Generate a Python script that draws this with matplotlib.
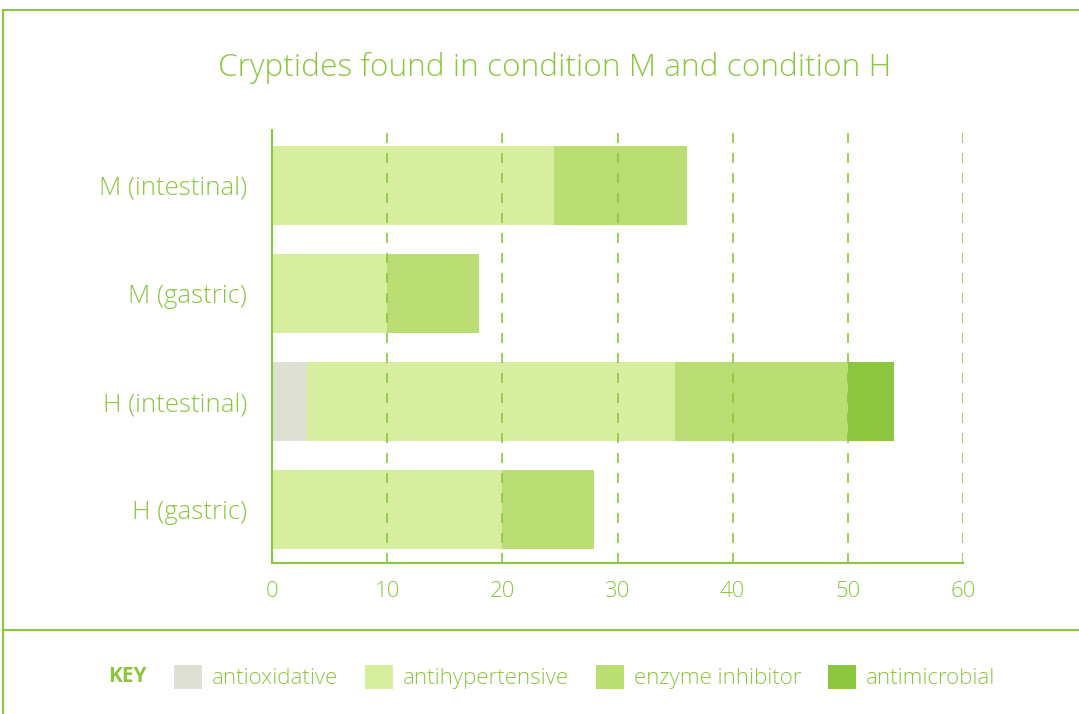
import matplotlib.pyplot as plt
from matplotlib.lines import Line2D
from matplotlib.patches import Patch

# data
samples = ["M (intestinal)", "M (gastric)", "H (intestinal)", "H (gastric)"]
categories = ["antioxidative", "antihypertensive", "enzyme inhibitor", "antimicrobial"]
antioxidative = [0, 0, 3, 0]
antihypertensive = [24.5, 10, 32, 20]
enzyme_inhibitor = [11.5, 8, 15, 8]
antimicrobial = [0, 0, 4, 0]
series = [antioxidative, antihypertensive, enzyme_inhibitor, antimicrobial]
colors = ["#dde0d3", "#d6ee9e", "#badd74", "#8cc63f"]
green = "#8cc63f"

plt.rcParams['font.family'] = ['Open Sans', 'DejaVu Sans']

fig = plt.figure(figsize=(10.79, 7.14), dpi=100)
ax = fig.add_axes([272/1079, 1-563/714, (963-272)/1079, (563-130)/714])

y = list(range(len(samples)))
left = [0]*len(samples)
for vals, col, name in zip(series, colors, categories):
    ax.barh(y, vals, left=left, height=0.73, color=col, label=name, zorder=2)
    left = [l+v for l, v in zip(left, vals)]

ax.set_xlim(0, 60)
ax.set_ylim(3.49, -0.51)
ax.set_yticks(y)
ax.set_yticklabels(samples)
ax.set_xticks(range(0, 61, 10))
ax.tick_params(length=0, colors=green, labelsize=16, pad=13)
ax.tick_params(axis='y', labelsize=18.5, pad=18)
for lab in ax.get_xticklabels() + ax.get_yticklabels():
    lab.set_fontweight('light')
ax.xaxis.grid(True, linestyle=(0, (6, 6)), color=green, linewidth=1.2, zorder=3)
ax.set_axisbelow(False)
for s in ['top', 'right']:
    ax.spines[s].set_visible(False)
for s in ['left', 'bottom']:
    ax.spines[s].set_color(green)
    ax.spines[s].set_linewidth(1.5)
    ax.spines[s].set_zorder(4)

fig.text(555/1079, 1-68/714, "Cryptides found in condition M and condition H",
         ha='center', va='center', fontsize=22.8, color=green, fontweight='light')

# frame lines
fig.add_artist(Line2D([3/1079, 1], [1-10/714, 1-10/714], color=green, lw=1.5))
fig.add_artist(Line2D([3/1079, 3/1079], [0, 1-10/714], color=green, lw=1.5))
fig.add_artist(Line2D([3/1079, 1], [1-630/714, 1-630/714], color=green, lw=1.5))

# key
fig.text(108/1079, 1-677/714, "KEY", ha='left', va='center', fontsize=15,
         color=green, fontweight='bold')
handles = [Patch(facecolor=c, edgecolor='none') for c in colors]
leg = fig.legend(handles, categories, loc='center left',
                 bbox_to_anchor=(163/1079, 1-677/714), ncol=4, frameon=False,
                 fontsize=16, handlelength=1.26, handleheight=1.26,
                 handletextpad=0.45, columnspacing=1.2, borderpad=0)
for t in leg.get_texts():
    t.set_color(green)
    t.set_fontweight('light')

fig.savefig("out.png", dpi=100)
